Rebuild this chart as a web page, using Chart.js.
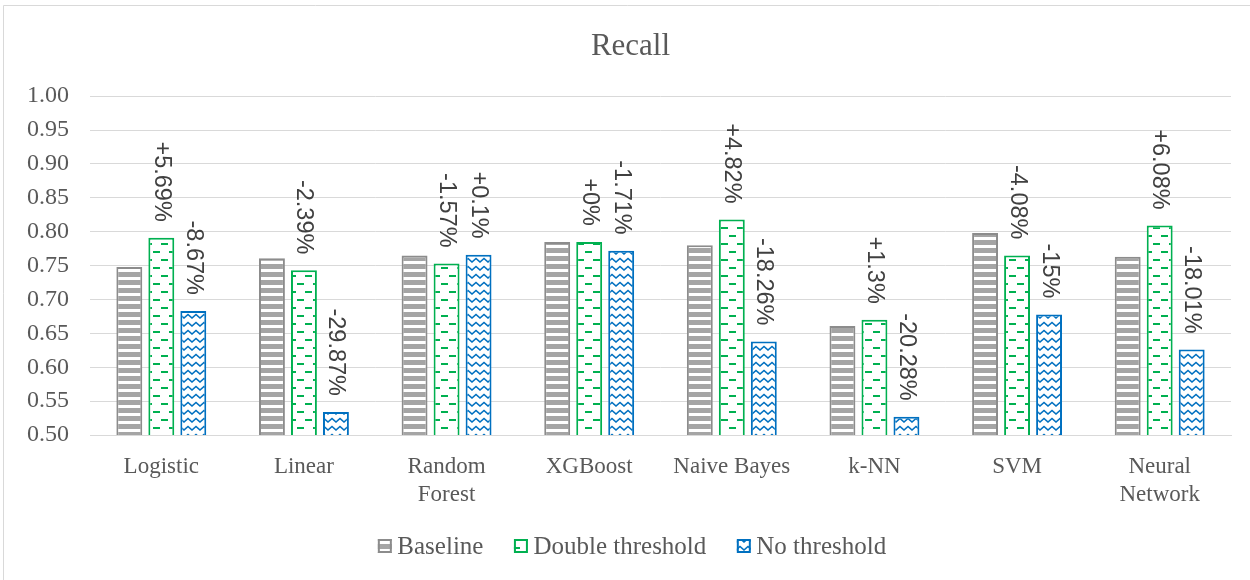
<!DOCTYPE html>
<html>
<head>
<meta charset="utf-8">
<script src="https://cdn.jsdelivr.net/npm/chart.js@4/dist/chart.umd.min.js"></script>
<style>
  html, body { margin: 0; padding: 0; background: #fff; }
  #wrap { width: 1250px; height: 580px; }
</style>
</head>
<body>
<div id="wrap"><canvas id="c" width="1250" height="580"></canvas></div>
<script>
// Model names along the x axis
const categories = ['Logistic', 'Linear', ['Random', 'Forest'], 'XGBoost', 'Naive Bayes', 'k-NN', 'SVM', ['Neural', 'Network']];

// Recall per model and strategy
const baseline        = [0.748, 0.761, 0.765, 0.785, 0.780, 0.661, 0.798, 0.763];
const doubleThreshold = [0.791, 0.743, 0.753, 0.785, 0.818, 0.670, 0.765, 0.809];
const noThreshold     = [0.683, 0.534, 0.766, 0.772, 0.638, 0.527, 0.678, 0.626];

// Relative change vs. baseline, printed above the bars
const doubleLabels = ['+5.69%', '-2.39%', '-1.57%', '+0%', '+4.82%', '+1.3%', '-4.08%', '+6.08%'];
const noLabels     = ['-8.67%', '-29.87%', '+0.1%', '-1.71%', '-18.26%', '-20.28%', '-15%', '-18.01%'];

// Y axis range
const yMin = 0.5, yMax = 1.0, yStep = 0.05;

const GREY = '#8C8C8C', GREEN = '#00B050', BLUE = '#0070C0';
const TEXT = '#595959';
const SERIF = '"Liberation Serif", "Times New Roman", serif';

function tile(w, h, paint) {
  const cv = document.createElement('canvas');
  cv.width = w; cv.height = h;
  const g = cv.getContext('2d');
  g.fillStyle = '#fff'; g.fillRect(0, 0, w, h);
  paint(g);
  return document.getElementById('c').getContext('2d').createPattern(cv, 'repeat');
}

// horizontal grey stripes
const stripePattern = tile(8, 8, g => {
  g.fillStyle = '#A5A5A5';
  g.fillRect(0, 0, 8, 5);
});
// staggered short green dashes
const dashPattern = tile(16, 16, g => {
  g.fillStyle = GREEN;
  g.fillRect(1, 3, 7, 2);
  g.fillRect(9, 11, 7, 2);
});
// blue zig-zag rows
const zigzagPattern = tile(8, 8, g => {
  g.strokeStyle = BLUE;
  g.lineWidth = 1.6;
  g.beginPath();
  g.moveTo(-0.5, 6.5); g.lineTo(4, 2.5); g.lineTo(8.5, 6.5);
  g.stroke();
});

// frame around the whole chart
const framePlugin = {
  id: 'frame',
  beforeDraw(chart) {
    const ctx = chart.ctx;
    ctx.save();
    ctx.fillStyle = '#fff';
    ctx.fillRect(0, 0, chart.width, chart.height);
    ctx.strokeStyle = '#D9D9D9';
    ctx.lineWidth = 1;
    ctx.beginPath();
    ctx.moveTo(3.5, chart.height + 2);
    ctx.lineTo(3.5, 5.5);
    ctx.lineTo(chart.width + 2, 5.5);
    ctx.stroke();
    ctx.restore();
  }
};

// vertical percentage labels above the bars
const changeLabels = {
  id: 'changeLabels',
  afterDatasetsDraw(chart) {
    const ctx = chart.ctx;
    const sets = [[1, doubleLabels], [2, noLabels]];
    ctx.save();
    ctx.font = '23.5px "Liberation Sans", Arial, sans-serif';
    ctx.fillStyle = '#404040';
    ctx.textAlign = 'right';
    ctx.textBaseline = 'middle';
    for (const [di, texts] of sets) {
      const meta = chart.getDatasetMeta(di);
      meta.data.forEach((bar, i) => {
        ctx.save();
        ctx.translate(bar.x, bar.y - 16);
        ctx.rotate(Math.PI / 2);
        ctx.fillText(texts[i], 0, 0);
        ctx.restore();
      });
    }
    ctx.restore();
  }
};

// legend row under the axis: pattern swatch + series name
const legendRow = {
  id: 'legendRow',
  afterDraw(chart) {
    const ctx = chart.ctx;
    const sets = chart.data.datasets;
    const box = 14, gapText = 5.5, gapItem = 30.5, cy = 546;
    ctx.save();
    ctx.font = '25px ' + SERIF;
    ctx.textBaseline = 'middle';
    ctx.textAlign = 'left';
    const widths = sets.map(d => box + gapText + ctx.measureText(d.label).width);
    const total = widths.reduce((a, b) => a + b, 0) + gapItem * (sets.length - 1);
    let x = chart.width / 2 + 7 - total / 2;
    sets.forEach((d, i) => {
      const top = cy - box / 2;
      ctx.fillStyle = d.backgroundColor;
      ctx.fillRect(x, top, box, box);
      ctx.strokeStyle = d.borderColor;
      ctx.lineWidth = 2;
      ctx.strokeRect(x + 1, top + 1, box - 2, box - 2);
      ctx.fillStyle = TEXT;
      ctx.fillText(d.label, x + box + gapText, cy + 1);
      x += widths[i] + gapItem;
    });
    ctx.restore();
  }
};

Chart.defaults.font.family = SERIF;
Chart.defaults.color = TEXT;

new Chart(document.getElementById('c'), {
  type: 'bar',
  data: {
    labels: categories,
    datasets: [
      { label: 'Baseline', data: baseline, backgroundColor: stripePattern, borderColor: GREY, borderWidth: 2 },
      { label: 'Double threshold', data: doubleThreshold, backgroundColor: dashPattern, borderColor: GREEN, borderWidth: 2 },
      { label: 'No threshold', data: noThreshold, backgroundColor: zigzagPattern, borderColor: BLUE, borderWidth: 2 }
    ]
  },
  options: {
    responsive: false,
    animation: false,
    devicePixelRatio: 1,
    layout: { padding: { left: 11, right: 0, top: 0, bottom: 0 } },
    datasets: { bar: { categoryPercentage: 0.673, barPercentage: 0.81 } },
    plugins: {
      title: {
        display: true,
        text: 'Recall',
        color: TEXT,
        font: { size: 31, weight: 'normal' },
        padding: { top: 28, bottom: 31 }
      },
      legend: { display: false },
      tooltip: { enabled: false }
    },
    scales: {
      x: {
        grid: { display: false },
        border: { color: '#D9D9D9' },
        ticks: { font: { size: 23, lineHeight: 1.22 }, padding: 10, maxRotation: 0, autoSkip: false },
        afterFit(s) { s.height = 145; }
      },
      y: {
        min: yMin,
        max: yMax,
        grid: { color: '#D9D9D9', drawTicks: false },
        border: { display: false },
        ticks: { stepSize: yStep, font: { size: 24 }, padding: 21, callback: v => v.toFixed(2) },
        afterFit(s) { s.width = 79; }
      },
      // empty strip on the right edge of the plot
      edge: {
        position: 'right',
        display: true,
        grid: { display: false, drawTicks: false },
        border: { display: false },
        ticks: { display: false },
        afterFit(s) { s.width = 19; }
      }
    }
  },
  plugins: [framePlugin, changeLabels, legendRow]
});
</script>
</body>
</html>
